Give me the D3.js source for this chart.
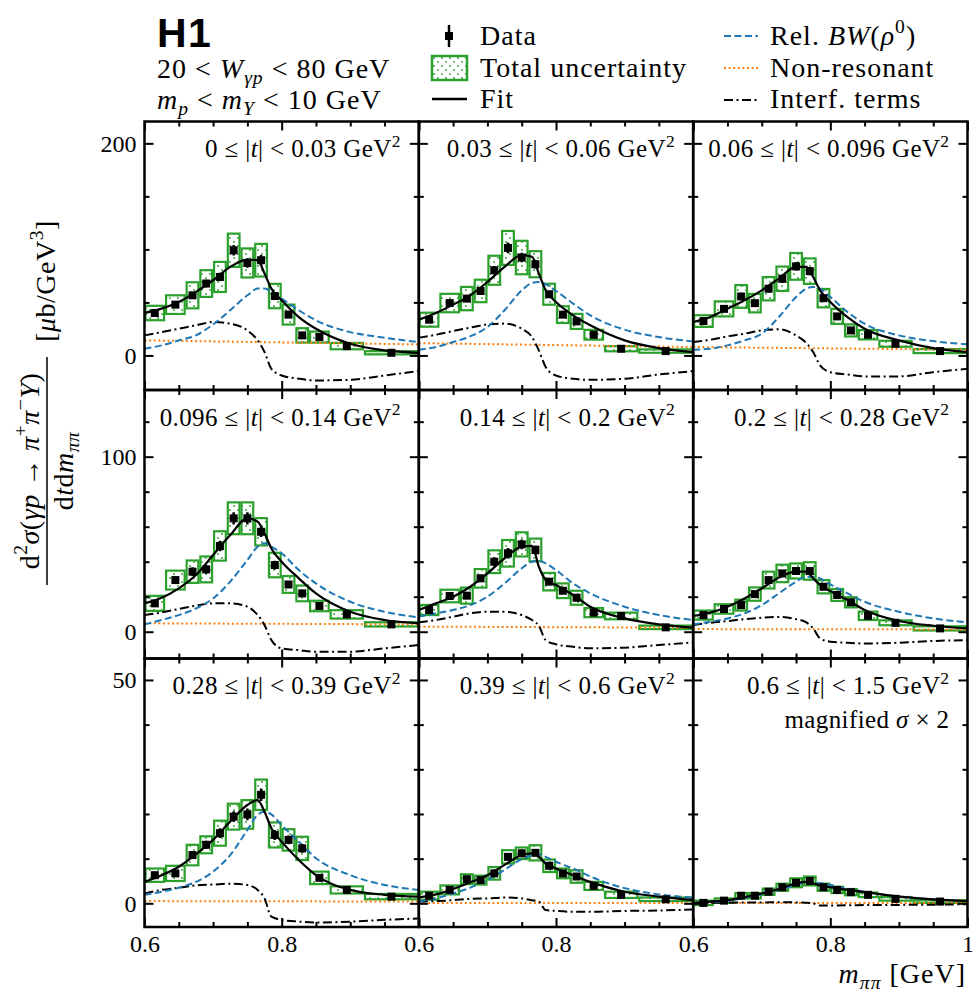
<!DOCTYPE html>
<html><head><meta charset="utf-8">
<script src="https://cdn.jsdelivr.net/npm/d3@7"></script>
<style>body{margin:0;background:#fff}</style>
</head><body>
<svg id="c" width="978" height="996"></svg>
<script>
// ---------------- DATA ----------------
const tEdges = ["0", "0.03", "0.06", "0.096", "0.14", "0.2", "0.28", "0.39", "0.6", "1.5"];
const binEdges = [0.6, 0.63, 0.66, 0.68, 0.70, 0.72, 0.74, 0.76, 0.78, 0.80, 0.82, 0.84, 0.87, 0.92, 1.0];
const binCenters = [0.615, 0.645, 0.67, 0.69, 0.71, 0.73, 0.75, 0.77, 0.79, 0.81, 0.83, 0.855, 0.895, 0.96];

const dataValues = [
  [40.0, 47.9, 56.7, 67.8, 74.0, 99.2, 87.2, 89.8, 56.0, 38.5, 18.9, 17.3, 8.8, 2.5],
  [33.7, 49.4, 53.6, 60.8, 80.3, 101.4, 92.3, 86.0, 57.7, 38.5, 32.1, 19.5, 6.3, 4.1],
  [32.4, 43.9, 55.6, 49.3, 62.9, 72.3, 84.0, 79.5, 54.0, 36.8, 23.6, 19.5, 11.0, 4.1],
  [16.2, 29.5, 34.3, 35.6, 49.0, 64.8, 64.8, 57.1, 38.1, 27.0, 21.9, 14.7, 9.9, 4.2],
  [12.4, 20.4, 20.6, 30.5, 40.0, 44.8, 49.9, 46.7, 28.6, 23.4, 19.4, 10.9, 9.0, 2.5],
  [9.5, 13.0, 15.2, 21.5, 29.5, 33.3, 34.7, 34.7, 25.7, 21.0, 16.8, 9.1, 5.1, 1.9],
  [6.3, 6.7, 10.8, 13.1, 15.7, 19.4, 19.9, 24.3, 15.3, 14.2, 12.3, 5.7, 3.0, 1.5],
  [1.7, 3.0, 5.4, 5.2, 6.7, 10.4, 11.2, 11.3, 8.4, 6.7, 6.0, 3.9, 1.9, 0.9],
  [0.1, 0.6, 1.7, 1.7, 2.6, 3.6, 4.6, 5.0, 3.6, 3.0, 2.5, 1.9, 1.0, 0.4]
];
const totalUnc = [
  [6.8, 8.8, 12.3, 12.6, 14.2, 15.7, 13.7, 15.4, 11.5, 9.4, 6.8, 5.2, 3.0, 1.5],
  [6.6, 8.7, 11.0, 10.6, 13.7, 16.0, 15.8, 12.3, 9.9, 7.9, 7.1, 4.6, 2.4, 1.6],
  [5.5, 7.1, 10.7, 8.7, 11.0, 11.5, 12.6, 12.0, 8.7, 7.1, 5.7, 4.4, 2.8, 1.9],
  [4.3, 5.4, 6.4, 7.4, 8.4, 9.1, 9.1, 7.8, 7.0, 4.8, 4.5, 3.0, 2.4, 1.2],
  [2.9, 3.6, 4.6, 5.3, 6.5, 7.6, 6.9, 6.5, 5.0, 4.2, 4.0, 2.6, 1.9, 1.0],
  [2.6, 2.7, 3.1, 3.8, 4.8, 5.0, 4.3, 5.0, 3.8, 3.4, 2.9, 2.4, 1.4, 1.2],
  [1.5, 1.7, 2.3, 1.9, 2.8, 2.9, 3.2, 3.4, 2.8, 2.4, 2.6, 1.4, 0.8, 0.6],
  [0.9, 1.0, 1.1, 1.0, 1.4, 1.5, 1.3, 1.7, 1.4, 1.1, 1.4, 0.9, 0.7, 0.4],
  [0.5, 0.5, 0.6, 0.6, 0.7, 0.8, 1.0, 1.0, 0.8, 0.7, 0.7, 0.5, 0.4, 0.3]
];
const statUnc = [
  [2, 2.5, 3, 3.5, 4, 5, 4.5, 5, 3.5, 3, 2.5, 2, 1.5, 1],
  [2, 2.5, 3, 3, 4, 5, 4.5, 4, 3, 2.5, 2, 1.5, 1, 0.8],
  [2, 2.5, 3, 3, 3.5, 4, 4, 4, 3, 2.5, 2, 1.5, 1, 0.8],
  [1.5, 2, 2.5, 2.5, 3, 3.5, 3.5, 3, 2.5, 2, 1.8, 1.3, 1, 0.6],
  [1.2, 1.5, 1.8, 2, 2.5, 3, 2.8, 2.6, 2, 1.8, 1.6, 1.1, 0.8, 0.5],
  [1, 1.2, 1.3, 1.5, 1.8, 2, 2, 2, 1.6, 1.4, 1.2, 1, 0.7, 0.5],
  [0.6, 0.7, 0.9, 0.9, 1.1, 1.2, 1.3, 1.4, 1.1, 1, 1, 0.6, 0.4, 0.3],
  [0.4, 0.4, 0.5, 0.5, 0.6, 0.6, 0.6, 0.7, 0.6, 0.5, 0.6, 0.4, 0.3, 0.2],
  [0.2, 0.2, 0.3, 0.3, 0.3, 0.4, 0.4, 0.4, 0.4, 0.3, 0.3, 0.2, 0.2, 0.1]
];

// model curves at these masses
const curveMass = [0.6, 0.625, 0.65, 0.675, 0.7, 0.725, 0.75, 0.765, 0.775, 0.785, 0.8, 0.825, 0.85, 0.9, 0.95, 1.0];
const fitCurve = [
  [40, 44.1, 50.4, 59.9, 70.9, 83.5, 90.4, 89.8, 77.2, 63, 52, 36.2, 25.2, 11, 4.7, 2.5],
  [33.7, 40, 47.9, 56.7, 69.3, 83.5, 94.5, 93, 77.2, 61.4, 50.4, 37.8, 28.4, 14.2, 6.9, 3.2],
  [31.5, 36.2, 44.1, 52, 61.4, 72.5, 83.5, 83.5, 74, 61.4, 50.4, 36.2, 25.2, 14.2, 6.9, 3.2],
  [16.2, 19.4, 24.8, 32.4, 43.8, 55.2, 64.8, 62.9, 56.2, 47.6, 40, 30.5, 21.9, 11.4, 6.7, 4.8],
  [12.4, 16.2, 20, 25.7, 33.3, 41.9, 48.6, 49.1, 37.1, 29.5, 26.7, 21, 14.3, 7.6, 4.2, 2.3],
  [9, 10.9, 14.3, 19, 24.8, 30.9, 34.3, 34.3, 30.5, 26.7, 23.2, 18.1, 12.4, 6.1, 3.4, 1.9],
  [4.8, 6.3, 8.2, 11, 14.2, 18.3, 22, 23.1, 20.5, 16.8, 13.8, 9.7, 6.3, 3, 1.9, 1.5],
  [1.3, 2, 3.2, 4.7, 6.3, 8.6, 10.8, 11.2, 10.4, 8.9, 7.8, 6.3, 4.8, 2.6, 1.5, 0.7],
  [0.1, 0.4, 0.7, 1.4, 2.2, 3.2, 4.5, 4.8, 4.5, 4, 3.6, 3, 2.5, 1.5, 0.9, 0.5]
];
const bwCurve = [
  [6.3, 9.5, 14.2, 18.9, 29.3, 42.6, 56.7, 63, 63, 60, 53.6, 42.6, 33.1, 22, 16.7, 12.6],
  [5.4, 7.9, 12.6, 18, 26.8, 42.6, 61.4, 68.4, 69.3, 67, 60.8, 48.9, 37.8, 24.3, 17.3, 13.2],
  [5.4, 6.3, 9.5, 14.2, 20.5, 36.2, 55.1, 63, 64.6, 63, 55.1, 41, 29.9, 18.9, 13.5, 10.4],
  [4.2, 6.7, 9.5, 13.3, 19, 28.6, 41, 48.6, 50.5, 48.6, 44.8, 35.2, 27.6, 17.1, 11.4, 8.2],
  [8.6, 10.5, 12.4, 15.2, 20, 27.6, 36.2, 40, 40.4, 39, 35.2, 27.6, 21.9, 14.3, 9.5, 6.7],
  [4.2, 5.7, 7.6, 10.5, 15.2, 21.9, 28.6, 31.4, 31.4, 30.5, 27, 21.9, 17.1, 11.4, 7.6, 5.3],
  [1.9, 2.6, 3.5, 4.8, 7.1, 10.8, 16.4, 19.8, 20.5, 19.9, 17.5, 13.8, 10.1, 6.3, 4.1, 3.0],
  [0.5, 1.1, 2.2, 3.5, 5.2, 7.5, 9.9, 10.8, 11, 10.4, 9.3, 7.8, 6, 3.4, 2, 1.3],
  [0, 0.3, 0.5, 1.2, 2, 3, 4.1, 4.7, 4.7, 4.5, 4.1, 3.3, 2.6, 1.5, 0.9, 0.5]
];
const interfCurve = [
  [18.9, 22, 25.2, 28.4, 31.5, 30, 23.6, 14.2, 3.2, -12.6, -18.9, -22, -23.6, -23, -18.9, -14.8],
  [16.7, 19.5, 23, 26.2, 29.3, 30, 25.2, 17.3, 4.7, -11, -18.9, -22, -23, -22, -18, -14.8],
  [12.6, 14.8, 18, 20.5, 23.6, 24.6, 18.9, 11.7, 3.2, -9.4, -15.8, -18, -19.8, -19.8, -15.8, -12.6],
  [9.5, 11, 13, 14.9, 16.2, 16.2, 14.3, 9.5, 3.8, -4.8, -9.5, -10.5, -11.4, -11.4, -9.5, -7.6],
  [5.3, 6.7, 8.6, 10.5, 11.4, 11.4, 9.5, 6.7, 3.4, -4.8, -7.2, -8.6, -9.5, -9.1, -7.6, -6.1],
  [3.8, 5.1, 6.1, 7.2, 8, 8.4, 7.2, 5.3, 1.9, -3.8, -5.7, -6.3, -6.7, -6.3, -5.3, -4.8],
  [2.2, 3, 3.5, 4, 4.2, 4.4, 4.1, 3, 1.1, -3, -3.7, -4.1, -4.3, -4.1, -3.7, -3.4],
  [0.4, 0.5, 0.7, 1, 1.1, 1.3, 1.1, 0.7, 0.4, -1.5, -1.7, -1.9, -1.9, -1.7, -1.6, -1.4],
  [0, 0.1, 0.15, 0.2, 0.2, 0.25, 0.2, 0.15, 0, -0.5, -0.5, -0.45, -0.4, -0.35, -0.3, -0.2]
];
const nonResMass = [0.6, 1.0];
const nonResCurve = [
  [14.2, 10.4], [11.6, 7.9], [7.9, 5.4], [4.8, 4.2], [2.9, 2.3], [1.5, 1.3], [0.5, 0.4], [0.1, 0.1], [0.05, 0.05]
];

// axes
const xDomain = [0.6, 1.0];
const xMajorTicks = [0.6, 0.8, 1.0];
const xMinorTicks = [0.65, 0.7, 0.75, 0.85, 0.9, 0.95];
const yDomains = [[-32.6, 220.6], [-15.3, 138.1], [-5.3, 54.8]];
const yMajorTicks = [[0, 200], [0, 100], [0, 50]];
const yMinorTicks = [[50, 100, 150], [20, 40, 60, 80, 120], [10, 20, 30, 40]];

// ---------------- LAYOUT ----------------
const FONT = "'Liberation Serif', 'Times New Roman', serif";
const C = { blue: '#1f77b4', orange: '#ff7f0e', green: '#2ca02c', black: '#000' };
const plotLeft = 144.5, plotRight = 967.5, plotTop = 121.5, plotBottom = 927;
const colW = (plotRight - plotLeft) / 3, rowH = (plotBottom - plotTop) / 3;

const svg = d3.select('#c');
const defs = svg.append('defs');
const pat = defs.append('pattern').attr('id', 'dots').attr('patternUnits', 'userSpaceOnUse')
  .attr('width', 8).attr('height', 8);
pat.append('circle').attr('cx', 2).attr('cy', 2).attr('r', 0.9).attr('fill', C.green);
pat.append('circle').attr('cx', 6).attr('cy', 6).attr('r', 0.9).attr('fill', C.green);

function rich(textSel, segs, size) {
  let shift = 0;
  segs.forEach(([t, st]) => {
    const ts = textSel.append('tspan').text(t);
    let target = 0, fs = size;
    if (st.includes('_')) { target = size * 0.22; fs = size * 0.7; }
    if (st.includes('^')) { target = -size * 0.42; fs = size * 0.7; }
    if (st.includes('i')) ts.attr('font-style', 'italic');
    ts.attr('font-size', fs);
    if (target !== shift) { ts.attr('dy', target - shift); shift = target; }
  });
  return textSel;
}
function addText(parent, x, y, segs, size, anchor, ls) {
  const t = parent.append('text').attr('x', x).attr('y', y)
    .attr('font-family', FONT).attr('font-size', size).attr('fill', '#000')
    .attr('text-anchor', anchor || 'start');
  if (ls) t.attr('letter-spacing', ls);
  return rich(t, segs, size);
}

const styles = {
  fit: { stroke: C.black, dash: null, w: 2.2 },
  bw: { stroke: C.blue, dash: '7,3.5', w: 2 },
  nonres: { stroke: C.orange, dash: '2,2.6', w: 2 },
  interf: { stroke: C.black, dash: '9,3.5,2,3.5', w: 2 }
};

for (let p = 0; p < 9; p++) {
  const r = Math.floor(p / 3), c = p % 3;
  const x0 = plotLeft + c * colW, y0 = plotTop + r * rowH;
  const x1 = x0 + colW, y1 = y0 + rowH;
  const x = d3.scaleLinear().domain(xDomain).range([x0, x1]);
  const y = d3.scaleLinear().domain(yDomains[r]).range([y1, y0]);

  defs.append('clipPath').attr('id', 'cp' + p).append('rect')
    .attr('x', x0).attr('y', y0).attr('width', colW).attr('height', rowH);
  const g = svg.append('g').attr('clip-path', `url(#cp${p})`);

  // total uncertainty boxes
  binCenters.forEach((m, i) => {
    const v = dataValues[p][i], e = totalUnc[p][i];
    g.append('rect')
      .attr('x', x(binEdges[i]) + 1).attr('width', x(binEdges[i + 1]) - x(binEdges[i]) - 2)
      .attr('y', y(v + e)).attr('height', Math.max(y(v - e) - y(v + e), 1.5))
      .attr('fill', 'url(#dots)').attr('stroke', C.green).attr('stroke-width', 2.2);
  });

  const line = d3.line().x(d => x(d[0])).y(d => y(d[1])).curve(d3.curveMonotoneX);
  const drawCurve = (masses, vals, st) => {
    g.append('path').attr('d', line(masses.map((m, i) => [m, vals[i]])))
      .attr('fill', 'none').attr('stroke', st.stroke).attr('stroke-width', st.w)
      .attr('stroke-dasharray', st.dash);
  };
  drawCurve(nonResMass, nonResCurve[p], styles.nonres);
  drawCurve(curveMass, interfCurve[p], styles.interf);
  drawCurve(curveMass, bwCurve[p], styles.bw);
  drawCurve(curveMass, fitCurve[p], styles.fit);

  // data points
  binCenters.forEach((m, i) => {
    const v = dataValues[p][i], e = statUnc[p][i];
    g.append('line').attr('x1', x(m)).attr('x2', x(m)).attr('y1', y(v - e)).attr('y2', y(v + e))
      .attr('stroke', '#000').attr('stroke-width', 2.5);
    g.append('rect').attr('x', x(m) - 4).attr('y', y(v) - 4).attr('width', 8).attr('height', 8).attr('fill', '#000');
  });

  // ticks
  const fmtX = d3.format('~g');
  const axes = [
    [d3.axisBottom(x), y1, 'x', xMajorTicks, 9, r === 2 ? (d => (c < 2 && d === 1.0) ? '' : fmtX(d)) : (() => '')],
    [d3.axisBottom(x), y1, 'x', xMinorTicks, 5, () => ''],
    [d3.axisTop(x), y0, 'x', xMajorTicks, 9, () => ''],
    [d3.axisTop(x), y0, 'x', xMinorTicks, 5, () => ''],
    [d3.axisLeft(y), x0, 'y', yMajorTicks[r], 9, c === 0 ? d3.format('d') : (() => '')],
    [d3.axisLeft(y), x0, 'y', yMinorTicks[r], 5, () => ''],
    [d3.axisRight(y), x1, 'y', yMajorTicks[r], 9, () => ''],
    [d3.axisRight(y), x1, 'y', yMinorTicks[r], 5, () => '']
  ];
  axes.forEach(([a, pos, dir, vals, len, fmt]) => {
    const ag = svg.append('g')
      .attr('transform', dir === 'x' ? `translate(0,${pos})` : `translate(${pos},0)`)
      .call(a.tickValues(vals).tickSize(-len).tickPadding(8).tickFormat(fmt));
    ag.select('.domain').remove();
    ag.selectAll('line').attr('stroke-width', 2);
    ag.attr('font-family', FONT).attr('font-size', 24);
  });

  // frame
  svg.append('rect').attr('x', x0).attr('y', y0).attr('width', colW).attr('height', rowH)
    .attr('fill', 'none').attr('stroke', '#000').attr('stroke-width', 2.5);

  // panel label
  addText(svg, x1 - 18, y0 + 35.5,
    [[tEdges[p] + ' ≤ |', ''], ['t', 'i'], ['| < ' + tEdges[p + 1] + ' GeV', ''], ['2', '^']], 25, 'end', 0.4);
  if (p === 8) addText(svg, x1 - 18, y0 + 69, [['magnified ', ''], ['σ', 'i'], [' × 2', '']], 25, 'end', 0.4);
}

// ---------------- HEADER / LEGEND ----------------
svg.append('text').attr('x', 157).attr('y', 47).attr('font-family', "'Liberation Sans', Arial, sans-serif")
  .attr('font-weight', 'bold').attr('font-size', 41).attr('letter-spacing', 1.5).text('H1');
const HS = 28, HLS = 1;
addText(svg, 157, 78, [['20 < ', ''], ['W', 'i'], ['γp', '_i'], [' < 80 GeV', '']], HS, 'start', HLS);
addText(svg, 157, 109, [['m', 'i'], ['p', '_i'], [' < ', ''], ['m', 'i'], ['Y', '_i'], [' < 10 GeV', '']], HS, 'start', HLS);

const lg = svg.append('g');
lg.append('line').attr('x1', 449).attr('x2', 449).attr('y1', 25).attr('y2', 47).attr('stroke', '#000').attr('stroke-width', 2.5);
lg.append('rect').attr('x', 445).attr('y', 32).attr('width', 8).attr('height', 8).attr('fill', '#000');
addText(lg, 480, 45, [['Data', '']], HS, 'start', HLS);
lg.append('rect').attr('x', 432).attr('y', 56).attr('width', 35).attr('height', 24)
  .attr('fill', 'url(#dots)').attr('stroke', C.green).attr('stroke-width', 2.5);
addText(lg, 480, 77, [['Total uncertainty', '']], HS, 'start', HLS);
lg.append('line').attr('x1', 432).attr('x2', 467).attr('y1', 99).attr('y2', 99).attr('stroke', '#000').attr('stroke-width', 2.5);
addText(lg, 480, 108, [['Fit', '']], HS, 'start', HLS);

const legLine = (yy, st) => lg.append('line').attr('x1', 724).attr('x2', 758).attr('y1', yy).attr('y2', yy)
  .attr('stroke', st.stroke).attr('stroke-width', st.w).attr('stroke-dasharray', st.dash);
legLine(36, styles.bw);
addText(lg, 770, 45, [['Rel. ', ''], ['BW', 'i'], ['(', ''], ['ρ', 'i'], ['0', '^'], [')', '']], HS, 'start', HLS);
legLine(68, styles.nonres);
addText(lg, 770, 77, [['Non-resonant', '']], HS, 'start', HLS);
legLine(100, styles.interf);
addText(lg, 770, 108, [['Interf. terms', '']], HS, 'start', HLS);

// ---------------- AXIS TITLES ----------------
addText(svg, 966, 983, [['m', 'i'], ['ππ', '_i'], [' [GeV]', '']], HS, 'end', HLS);
const yl = svg.append('g').attr('transform', 'rotate(-90)');
addText(yl, -471, 39, [['d', ''], ['2', '^'], ['σ', 'i'], ['(', ''], ['γp', 'i'], [' → ', ''], ['π', 'i'], ['+', '^'], ['π', 'i'], ['−', '^'], ['Y', 'i'], [')', '']], HS, 'middle', 0.5);
yl.append('line').attr('x1', -585).attr('x2', -357).attr('y1', 47).attr('y2', 47).attr('stroke', '#000').attr('stroke-width', 1.5);
addText(yl, -471, 72.5, [['d', ''], ['t', 'i'], ['d', ''], ['m', 'i'], ['ππ', '_i']], HS, 'middle', 0.5);
addText(yl, -281, 55, [['[', ''], ['μ', 'i'], ['b/GeV', ''], ['3', '^'], [']', '']], HS, 'middle', 0.5);
</script>
</body></html>
